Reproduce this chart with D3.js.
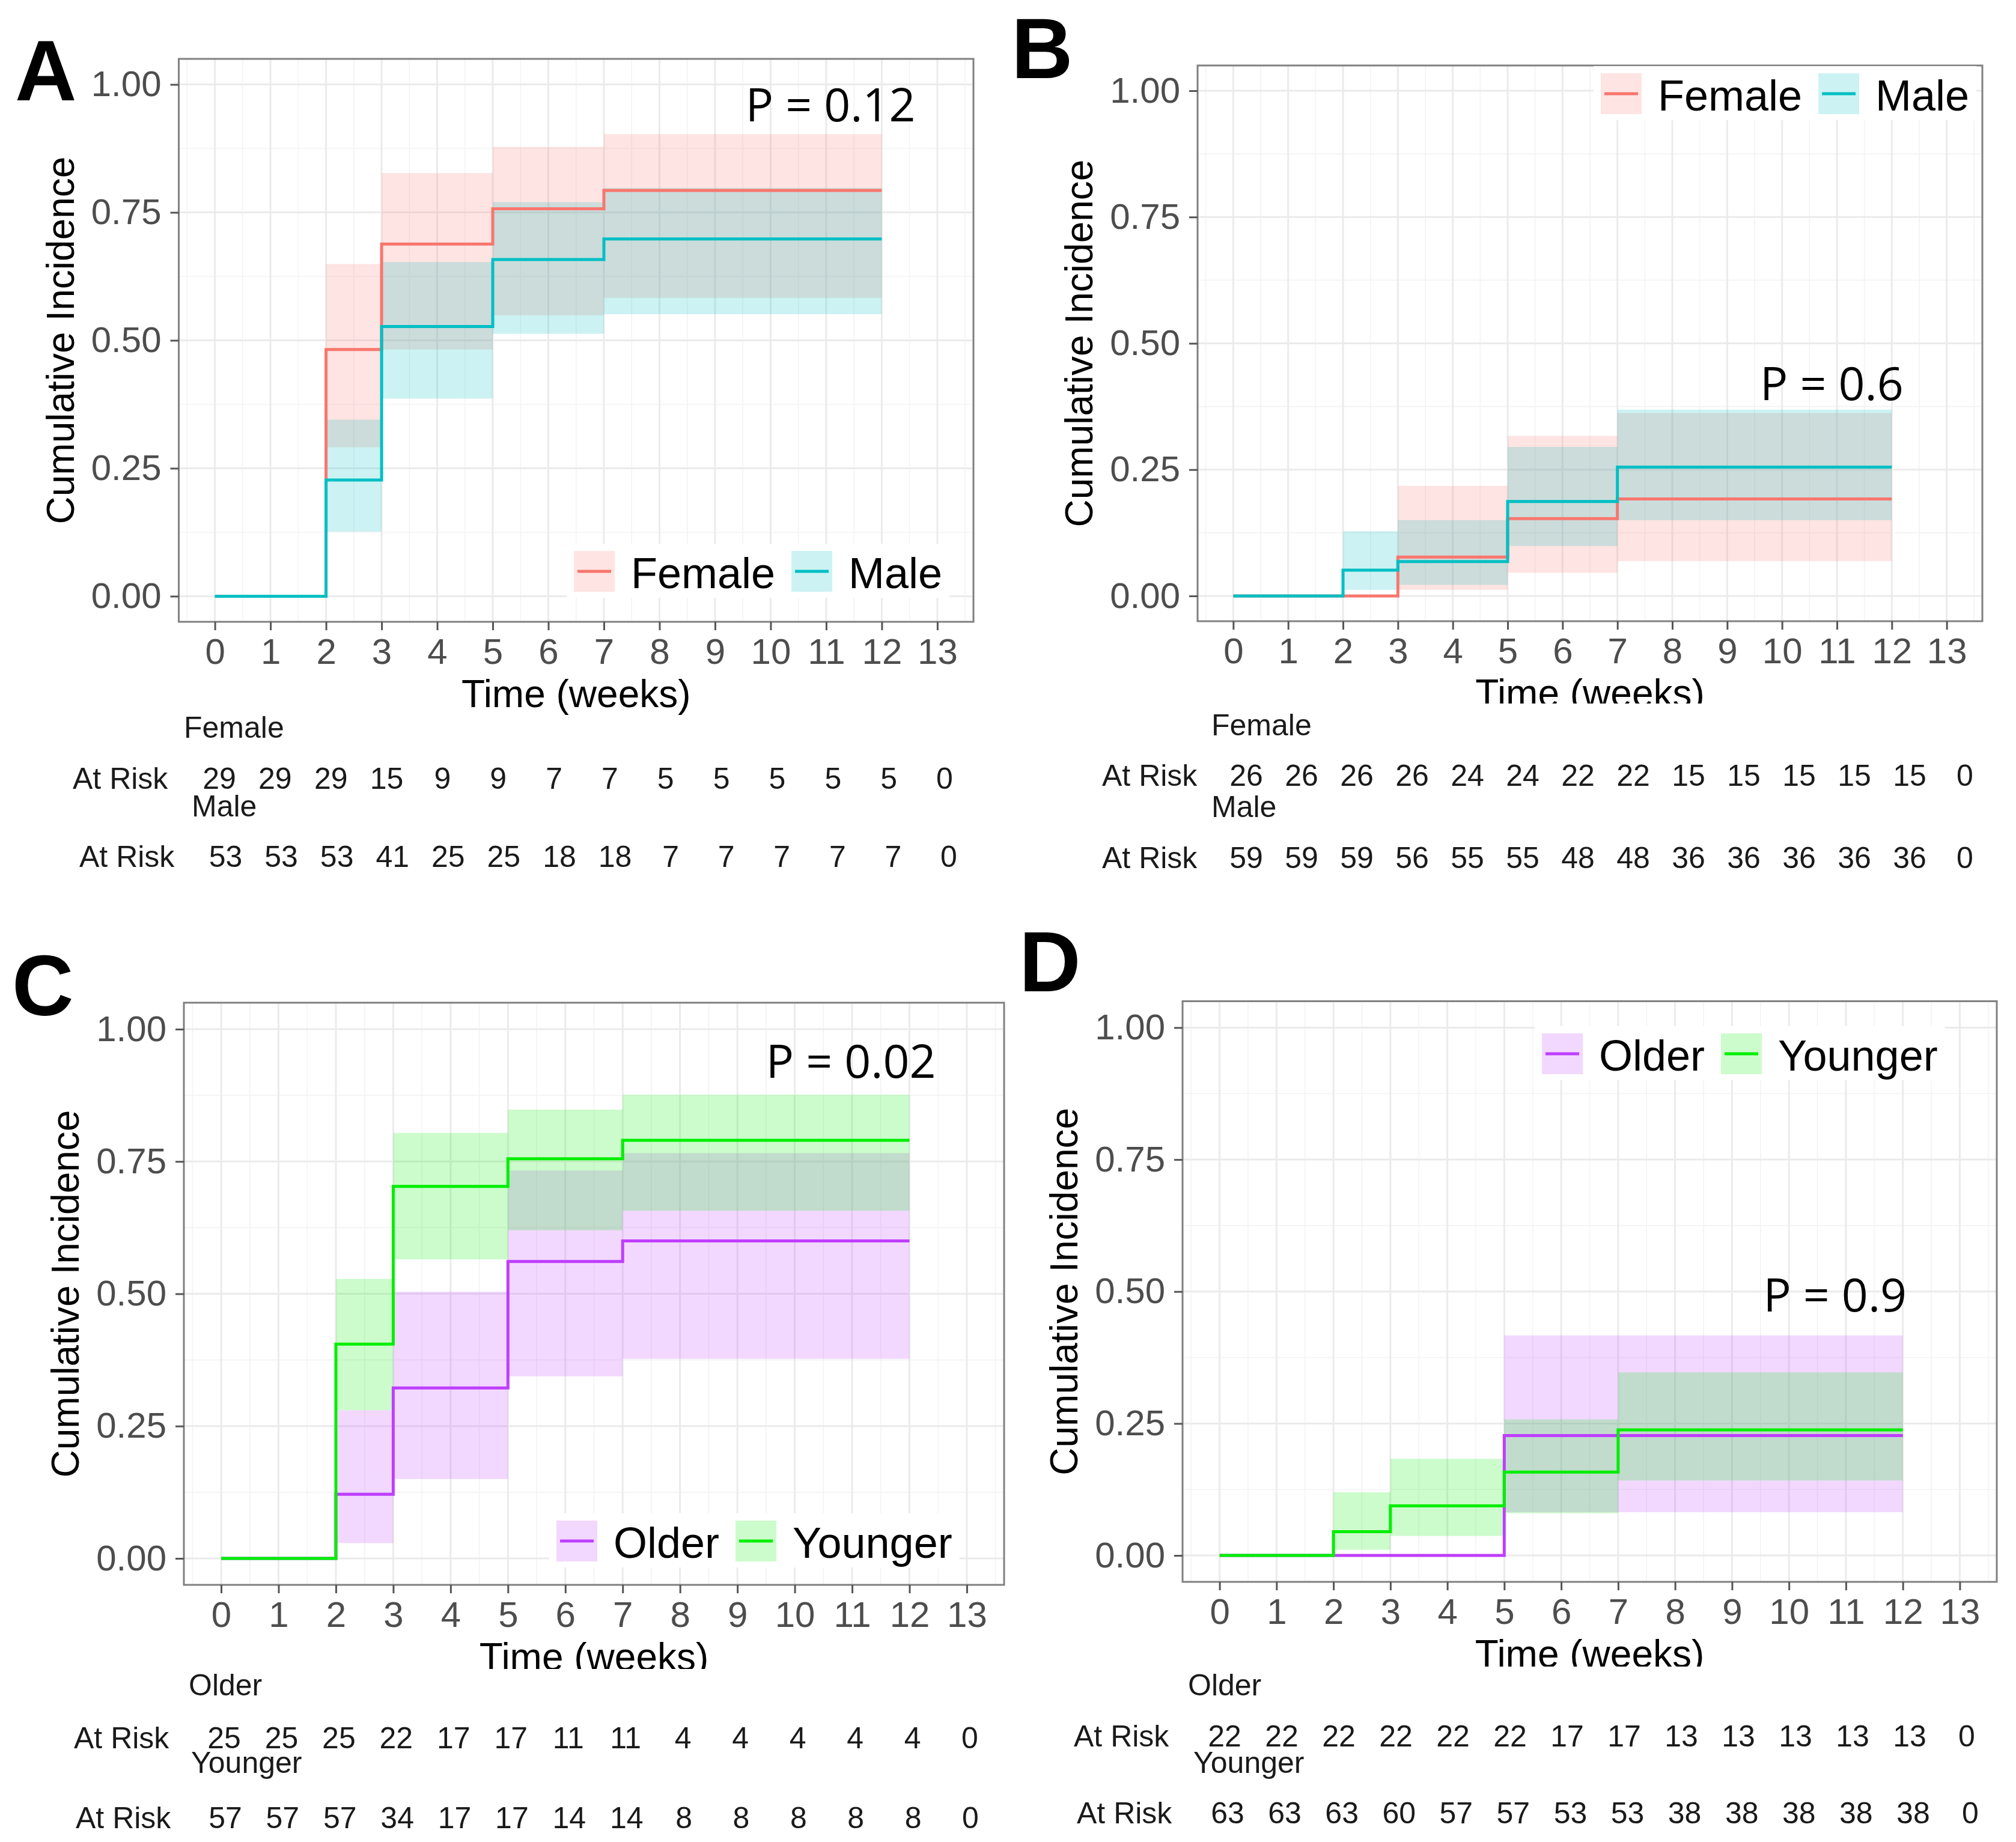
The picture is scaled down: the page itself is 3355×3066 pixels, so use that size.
<!DOCTYPE html>
<html>
<head>
<meta charset="utf-8">
<script src="https://cdn.jsdelivr.net/npm/d3@7"></script>
<style>
  body { margin: 0; background: #fff; }
</style>
</head>
<body>
<div id="chart"></div>
<script>
// ---------- data ----------
const weeks = d3.range(0, 14);
const stepTimes = [0, 2, 3, 5, 7, 12];
const bandTimes = [2, 3, 5, 7, 12];
const yTicks = [0, 0.25, 0.5, 0.75, 1];
const yTickLabels = ["0.00", "0.25", "0.50", "0.75", "1.00"];
const panelLetters = ["A", "B", "C", "D"];
const pLabels = ["P = 0.12", "P = 0.6", "P = 0.02", "P = 0.9"];
const sexGroups = ["Female", "Male"];
const ageGroups = ["Older", "Younger"];

// A: sex, outcome 1
const femaleEstA = [0, 0.482, 0.688, 0.757, 0.793, 0.793];
const femaleLoA = [0.291, 0.482, 0.549, 0.583, 0.583];
const femaleHiA = [0.649, 0.827, 0.878, 0.903, 0.903];
const maleEstA = [0, 0.227, 0.527, 0.658, 0.698, 0.698];
const maleLoA = [0.126, 0.386, 0.513, 0.551, 0.551];
const maleHiA = [0.345, 0.653, 0.770, 0.798, 0.798];
const femaleRiskA = [29, 29, 29, 15, 9, 9, 7, 7, 5, 5, 5, 5, 5, 0];
const maleRiskA = [53, 53, 53, 41, 25, 25, 18, 18, 7, 7, 7, 7, 7, 0];

// B: sex, outcome 2
const femaleEstB = [0, 0, 0.077, 0.153, 0.192, 0.192];
const femaleLoB = [0, 0.012, 0.046, 0.069, 0.069];
const femaleHiB = [0, 0.218, 0.317, 0.362, 0.362];
const maleEstB = [0, 0.051, 0.068, 0.187, 0.255, 0.255];
const maleLoB = [0.012, 0.022, 0.099, 0.150, 0.150];
const maleHiB = [0.128, 0.150, 0.295, 0.369, 0.369];
const femaleRiskB = [26, 26, 26, 26, 24, 24, 22, 22, 15, 15, 15, 15, 15, 0];
const maleRiskB = [59, 59, 59, 56, 55, 55, 48, 48, 36, 36, 36, 36, 36, 0];

// C: age, outcome 1
const olderEstC = [0, 0.121, 0.322, 0.561, 0.600, 0.600];
const olderLoC = [0.029, 0.150, 0.344, 0.377, 0.377];
const olderHiC = [0.280, 0.504, 0.733, 0.766, 0.766];
const youngerEstC = [0, 0.405, 0.703, 0.755, 0.790, 0.790];
const youngerLoC = [0.280, 0.565, 0.620, 0.657, 0.657];
const youngerHiC = [0.528, 0.804, 0.848, 0.876, 0.876];
const olderRiskC = [25, 25, 25, 22, 17, 17, 11, 11, 4, 4, 4, 4, 4, 0];
const youngerRiskC = [57, 57, 57, 34, 17, 17, 14, 14, 8, 8, 8, 8, 8, 0];

// D: age, outcome 2
const olderEstD = [0, 0, 0, 0.227, 0.227, 0.227];
const olderLoD = [0, 0, 0.082, 0.082, 0.082];
const olderHiD = [0, 0, 0.417, 0.417, 0.417];
const youngerEstD = [0, 0.045, 0.094, 0.158, 0.238, 0.238];
const youngerLoD = [0.011, 0.037, 0.080, 0.142, 0.142];
const youngerHiD = [0.120, 0.183, 0.258, 0.347, 0.347];
const olderRiskD = [22, 22, 22, 22, 22, 22, 17, 17, 13, 13, 13, 13, 13, 0];
const youngerRiskD = [63, 63, 63, 60, 57, 57, 53, 53, 38, 38, 38, 38, 38, 0];

// ---------- layout ----------
const sexColors = ["#F8766D", "#00BFC4"];
const ageColors = ["#BF3EFF", "#00EE00"];
const font = "'Liberation Sans', Arial, sans-serif";

const panels = [
    {
        letter: { x: 25, y: 167 },
        box: { x0: 297.5, x1: 1620, y0: 98, y1: 1035 },
        groups: sexGroups, colors: sexColors,
        est: [femaleEstA, maleEstA], lo: [femaleLoA, maleLoA], hi: [femaleHiA, maleHiA],
        risk: [femaleRiskA, maleRiskA],
        legend: { x: 955, y: 917 },
        p: { x: 9.55, y: 0.96 },
        cut: null,
        table: [
            { label: [306, 1228], atRisk: [121, 1313], range: [365, 1572] },
            { label: [319, 1359], atRisk: [132, 1443], range: [375.5, 1579] }
        ]
    },
    {
        letter: { x: 1683, y: 130 },
        box: { x0: 1993, x1: 3299, y0: 109, y1: 1034 },
        groups: sexGroups, colors: sexColors,
        est: [femaleEstB, maleEstB], lo: [femaleLoB, maleLoB], hi: [femaleHiB, maleHiB],
        risk: [femaleRiskB, maleRiskB],
        legend: { x: 2664, y: 122 },
        p: { x: 9.6, y: 0.42 },
        cut: 1171,
        table: [
            { label: [2016, 1224], atRisk: [1834, 1308], range: [2074, 3270] },
            { label: [2016, 1360], atRisk: [1834, 1445], range: [2074, 3270] }
        ]
    },
    {
        letter: { x: 20, y: 1690 },
        box: { x0: 306, x1: 1671, y0: 1669, y1: 2638 },
        groups: ageGroups, colors: ageColors,
        est: [olderEstC, youngerEstC], lo: [olderLoC, youngerLoC], hi: [olderHiC, youngerHiC],
        risk: [olderRiskC, youngerRiskC],
        legend: { x: 926, y: 2531 },
        p: { x: 9.5, y: 0.94 },
        cut: 2778,
        table: [
            { label: [314, 2822], atRisk: [123, 2910], range: [373, 1614] },
            { label: [318, 2951], atRisk: [126, 3043], range: [375, 1615] }
        ]
    },
    {
        letter: { x: 1696, y: 1650 },
        box: { x0: 1968, x1: 3323, y0: 1666.5, y1: 2633 },
        groups: ageGroups, colors: ageColors,
        est: [olderEstD, youngerEstD], lo: [olderLoD, youngerLoD], hi: [olderHiD, youngerHiD],
        risk: [olderRiskD, youngerRiskD],
        legend: { x: 2566, y: 1720 },
        p: { x: 9.55, y: 0.494 },
        cut: 2774,
        table: [
            { label: [1977, 2822], atRisk: [1787, 2907], range: [2038, 3273] },
            { label: [1986, 2951], atRisk: [1792, 3035], range: [2043, 3279] }
        ]
    }
];

const svg = d3.select("#chart")
    .append("svg")
    .attr("width", 3355)
    .attr("height", 3066)
    .style("font-family", font);

svg.append("rect").attr("width", 3355).attr("height", 3066).attr("fill", "#fff");

panels.forEach(function (p, i) { drawPanel(p, i); });

function drawPanel(p, i) {
    const b = p.box;
    const g = svg.append("g");

    const x = d3.scaleLinear().domain([-0.65, 13.65]).range([b.x0, b.x1]);
    const y = d3.scaleLinear().domain([-0.05, 1.05]).range([b.y1, b.y0]);

    // panel background + grid
    g.append("rect")
        .attr("x", b.x0).attr("y", b.y0)
        .attr("width", b.x1 - b.x0).attr("height", b.y1 - b.y0)
        .attr("fill", "#fff");

    const minorX = d3.range(-0.5, 14, 1);
    const minorY = [0.125, 0.375, 0.625, 0.875];
    g.selectAll(".gx-minor").data(minorX).enter().append("line")
        .attr("x1", d => x(d)).attr("x2", d => x(d))
        .attr("y1", b.y0).attr("y2", b.y1)
        .attr("stroke", "#F3F3F3").attr("stroke-width", 1.6);
    g.selectAll(".gy-minor").data(minorY).enter().append("line")
        .attr("y1", d => y(d)).attr("y2", d => y(d))
        .attr("x1", b.x0).attr("x2", b.x1)
        .attr("stroke", "#F3F3F3").attr("stroke-width", 1.6);
    g.selectAll(".gx").data(weeks).enter().append("line")
        .attr("x1", d => x(d)).attr("x2", d => x(d))
        .attr("y1", b.y0).attr("y2", b.y1)
        .attr("stroke", "#EBEBEB").attr("stroke-width", 3);
    g.selectAll(".gy").data(yTicks).enter().append("line")
        .attr("y1", d => y(d)).attr("y2", d => y(d))
        .attr("x1", b.x0).attr("x2", b.x1)
        .attr("stroke", "#EBEBEB").attr("stroke-width", 3);

    // confidence bands
    const area = d3.area()
        .curve(d3.curveStepAfter)
        .x(d => x(d.t))
        .y0(d => y(d.lo))
        .y1(d => y(d.hi));
    [0, 1].forEach(function (k) {
        const pts = bandTimes.map((t, j) => ({ t: t, lo: p.lo[k][j], hi: p.hi[k][j] }));
        g.append("path")
            .attr("d", area(pts))
            .attr("fill", p.colors[k])
            .attr("fill-opacity", 0.2);
    });

    // step curves
    const line = d3.line()
        .curve(d3.curveStepAfter)
        .x(d => x(d.t))
        .y(d => y(d.v));
    [0, 1].forEach(function (k) {
        const pts = stepTimes.map((t, j) => ({ t: t, v: p.est[k][j] }));
        g.append("path")
            .attr("d", line(pts))
            .attr("fill", "none")
            .attr("stroke", p.colors[k])
            .attr("stroke-width", 5);
    });

    // panel border
    g.append("rect")
        .attr("x", b.x0).attr("y", b.y0)
        .attr("width", b.x1 - b.x0).attr("height", b.y1 - b.y0)
        .attr("fill", "none")
        .attr("stroke", "#808080")
        .attr("stroke-width", 3);

    // legend
    const lg = g.append("g");
    const lgBg = lg.append("rect").attr("fill", "#fff");
    let cx = p.legend.x;
    [0, 1].forEach(function (k) {
        lg.append("rect")
            .attr("x", cx).attr("y", p.legend.y)
            .attr("width", 68).attr("height", 68)
            .attr("fill", p.colors[k]).attr("fill-opacity", 0.2);
        lg.append("line")
            .attr("x1", cx + 6).attr("x2", cx + 62)
            .attr("y1", p.legend.y + 34).attr("y2", p.legend.y + 34)
            .attr("stroke", p.colors[k]).attr("stroke-width", 5);
        const t = lg.append("text")
            .attr("x", cx + 95).attr("y", p.legend.y + 62)
            .attr("font-size", 72).attr("fill", "#000")
            .text(p.groups[k]);
        cx = cx + 95 + t.node().getComputedTextLength() + 27;
    });
    lgBg.attr("x", p.legend.x - 12).attr("y", p.legend.y - 12)
        .attr("width", cx - 27 + 12 - (p.legend.x - 12))
        .attr("height", 68 + 22);

    // p value
    g.append("text")
        .attr("x", x(p.p.x)).attr("y", y(p.p.y))
        .attr("dy", "0.36em")
        .attr("font-family", "'Open Sans', 'Noto Sans', sans-serif")
        .attr("font-size", 77).attr("fill", "#000")
        .text(pLabels[i]);

    // axes
    const xAxis = g.append("g")
        .attr("transform", "translate(0," + b.y1 + ")")
        .call(d3.axisBottom(x).tickValues(weeks).tickSize(14).tickPadding(13).tickFormat(d3.format("d")));
    const yAxis = g.append("g")
        .attr("transform", "translate(" + b.x0 + ",0)")
        .call(d3.axisLeft(y).tickValues(yTicks).tickSize(14).tickPadding(15)
            .tickFormat((d, j) => yTickLabels[j]));
    [xAxis, yAxis].forEach(function (ax) {
        ax.select(".domain").remove();
        ax.selectAll(".tick line").attr("stroke", "#555").attr("stroke-width", 3);
        ax.selectAll(".tick text")
            .attr("font-family", font)
            .attr("font-size", 60)
            .attr("fill", "#4D4D4D");
    });

    // axis titles
    g.append("text")
        .attr("x", (b.x0 + b.x1) / 2).attr("y", b.y1 + 142)
        .attr("text-anchor", "middle")
        .attr("font-size", 64).attr("fill", "#000")
        .text("Time (weeks)");
    g.append("text")
        .attr("transform", "translate(" + (b.x0 - 175) + "," + ((b.y0 + b.y1) / 2) + ") rotate(-90)")
        .attr("text-anchor", "middle")
        .attr("font-size", 64).attr("fill", "#000")
        .text("Cumulative Incidence");

    // the risk table sits over the lower part of the x title
    if (p.cut !== null) {
        g.append("rect")
            .attr("x", b.x0 - 260).attr("y", p.cut)
            .attr("width", b.x1 - b.x0 + 300).attr("height", 60)
            .attr("fill", "#fff");
    }

    // number-at-risk table
    p.table.forEach(function (row, k) {
        const tx = d3.scaleLinear().domain([0, 13]).range(row.range);
        g.append("text")
            .attr("x", row.label[0]).attr("y", row.label[1])
            .attr("font-size", 50).attr("fill", "#1A1A1A")
            .text(p.groups[k]);
        g.append("text")
            .attr("x", row.atRisk[0]).attr("y", row.atRisk[1])
            .attr("font-size", 50).attr("fill", "#1A1A1A")
            .text("At Risk");
        g.selectAll(".risk" + k).data(p.risk[k]).enter().append("text")
            .attr("x", (d, j) => tx(weeks[j]))
            .attr("y", row.atRisk[1])
            .attr("text-anchor", "middle")
            .attr("font-size", 50).attr("fill", "#1A1A1A")
            .text(d => d);
    });

    // panel letter
    g.append("text")
        .attr("x", p.letter.x).attr("y", p.letter.y)
        .attr("font-size", 142).attr("font-weight", "bold").attr("fill", "#000")
        .text(panelLetters[i]);
}
</script>
</body>
</html>
